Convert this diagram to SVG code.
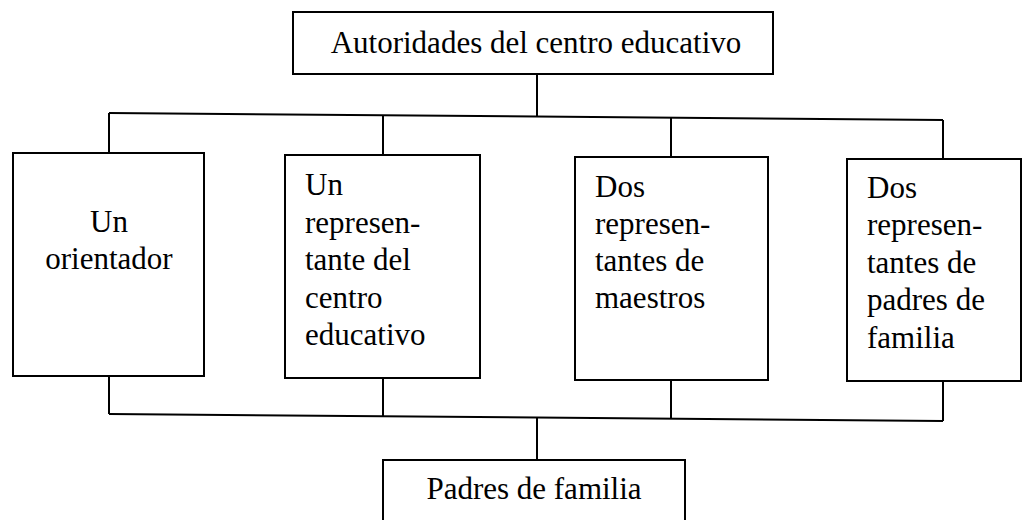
<svg xmlns="http://www.w3.org/2000/svg" width="1028" height="520" viewBox="0 0 1028 520">
<style>
.box{fill:#fff;stroke:#000;stroke-width:2}
.t{font-family:"Liberation Serif","Times New Roman",serif;font-size:31px;fill:#000}
.c{text-anchor:middle}
.ln{fill:none;stroke:#000;stroke-width:2}
</style>
<rect width="1028" height="520" fill="#fff"/>
<g id="connectors">
<path class="ln" d="M537,74 L537,116"/>
<path class="ln" d="M109,113 L943,120"/>
<path class="ln" d="M109,113 L109,153"/>
<path class="ln" d="M383,115 L383,155"/>
<path class="ln" d="M671,118 L671,157"/>
<path class="ln" d="M943,120 L943,159"/>
<path class="ln" d="M109,414 L943,421"/>
<path class="ln" d="M109,376 L109,414"/>
<path class="ln" d="M383,378 L383,416"/>
<path class="ln" d="M671,380 L671,419"/>
<path class="ln" d="M943,381 L943,421"/>
<path class="ln" d="M537,418 L537,460"/>
</g>
<g id="top">
<rect class="box" x="293" y="12" width="480" height="62"/>
<text class="t c" x="536" y="53">Autoridades del centro educativo</text>
</g>
<g id="orientador">
<rect class="box" x="13" y="153" width="191" height="223"/>
<text class="t c" x="109" y="232">Un</text>
<text class="t c" x="109" y="269">orientador</text>
</g>
<g id="rep-centro">
<rect class="box" x="285" y="155" width="195" height="223"/>
<text class="t" x="305" y="195">Un</text>
<text class="t" x="305" y="233">represen-</text>
<text class="t" x="305" y="270">tante del</text>
<text class="t" x="305" y="308">centro</text>
<text class="t" x="305" y="345">educativo</text>
</g>
<g id="rep-maestros">
<rect class="box" x="575" y="157" width="193" height="223"/>
<text class="t" x="595" y="197">Dos</text>
<text class="t" x="595" y="234">represen-</text>
<text class="t" x="595" y="271">tantes de</text>
<text class="t" x="595" y="308">maestros</text>
</g>
<g id="rep-padres">
<rect class="box" x="847" y="159" width="174" height="222"/>
<text class="t" x="867" y="198">Dos</text>
<text class="t" x="867" y="235">represen-</text>
<text class="t" x="867" y="273">tantes de</text>
<text class="t" x="867" y="310">padres de</text>
<text class="t" x="867" y="348">familia</text>
</g>
<g id="padres">
<rect class="box" x="383" y="460" width="302" height="70"/>
<text class="t c" x="534" y="499">Padres de familia</text>
</g>
</svg>
